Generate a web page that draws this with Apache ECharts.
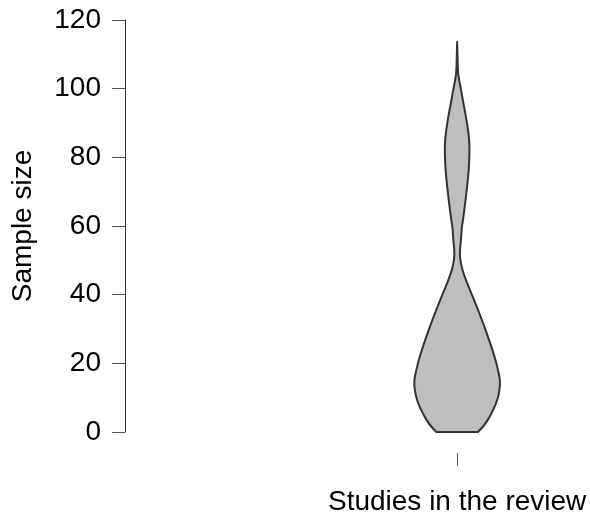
<!DOCTYPE html>
<html>
<head>
<meta charset="utf-8">
<script src="https://cdn.jsdelivr.net/npm/echarts@6/dist/echarts.min.js"></script>
<style>
html,body{margin:0;padding:0;background:#fff;}
#chart{width:590px;height:522px;}
</style>
</head>
<body>
<div id="chart"></div>
<script>
// Category
var categories = ['Studies in the review'];
// Violin outline: sample size values and half-widths (x-axis units, violin centred at x = 1)
var sampleSize = [0, 1.6, 3.6, 6.5, 9.4, 12.3, 15.2, 18.1, 21.1, 24, 26.9, 29.8, 32.7, 35.6, 38.5, 41.4, 44.3, 47.2, 49.5, 51.5, 53.5, 55, 57.5, 59.8, 62, 64.7, 67, 69.5, 72, 74.4, 77, 79.3, 82, 84.5, 87, 89.5, 92, 94.5, 97, 99.5, 102, 104, 106, 110, 113.6];
var halfWidth = [0.0311, 0.0390, 0.0464, 0.0544, 0.0604, 0.0637, 0.0643, 0.0614, 0.0575, 0.0529, 0.0479, 0.0426, 0.0372, 0.0314, 0.0254, 0.0192, 0.0132, 0.0081, 0.0054, 0.0042, 0.0045, 0.0053, 0.0063, 0.0072, 0.0090, 0.0108, 0.0123, 0.0138, 0.0153, 0.0165, 0.0176, 0.0182, 0.0185, 0.0182, 0.0170, 0.0152, 0.0131, 0.0107, 0.0083, 0.0060, 0.0035, 0.0018, 0.0011, 0.0005, 0];
var violinPosition = 1;
// Y axis ticks
var yTicks = [0, 20, 40, 60, 80, 100, 120];

var chart = echarts.init(document.getElementById('chart'), null, {renderer: 'canvas'});
var FONT = 'Liberation Sans, Arial, sans-serif';

var option = {
  animation: false,
  backgroundColor: '#ffffff',
  grid: [
    {left: 125, top: 20, bottom: 90, right: 0, containLabel: false},
    {left: 125, top: 440, bottom: 69, right: 0, containLabel: false}
  ],
  xAxis: [{
    gridIndex: 0,
    type: 'value',
    min: 0.5,
    max: 1.2,
    show: false
  }, {
    gridIndex: 1,
    type: 'value',
    min: 0.5,
    max: 1.2,
    position: 'bottom',
    axisLine: {show: false},
    axisTick: {show: true, customValues: [violinPosition], length: 13, lineStyle: {color: '#555', width: 1}},
    axisLabel: {show: true, customValues: [violinPosition], margin: 35, fontSize: 28, color: '#000', fontFamily: FONT,
      formatter: function () { return categories[0]; }},
    splitLine: {show: false}
  }],
  yAxis: [{
    gridIndex: 0,
    type: 'value',
    min: yTicks[0],
    max: yTicks[yTicks.length - 1],
    interval: 20,
    name: 'Sample size',
    nameLocation: 'middle',
    nameGap: 88,
    nameTextStyle: {fontSize: 28, color: '#000', fontFamily: FONT},
    axisLine: {show: true, lineStyle: {color: '#333', width: 1}},
    axisTick: {show: true, length: 13, lineStyle: {color: '#555', width: 1}},
    axisLabel: {margin: 24, fontSize: 28, color: '#000', fontFamily: FONT},
    splitLine: {show: false}
  }, {
    gridIndex: 1,
    type: 'value',
    min: 0,
    max: 1,
    show: false
  }],
  series: [{
    type: 'custom',
    xAxisIndex: 0,
    yAxisIndex: 0,
    data: [[violinPosition]],
    renderItem: function (params, api) {
      var cx = api.value(0);
      var left = [], right = [];
      for (var i = 0; i < sampleSize.length; i++) {
        left.push(api.coord([cx - halfWidth[i], sampleSize[i]]));
        right.push(api.coord([cx + halfWidth[i], sampleSize[i]]));
      }
      var outline = left.concat(right.reverse());
      var bl = left[0];
      var br = outline[outline.length - 1];
      return {
        type: 'group',
        children: [{
          type: 'polyline',
          shape: {points: outline, smooth: 0.3},
          style: {fill: '#bebebe', stroke: '#333333', lineWidth: 2, lineJoin: 'round'}
        }, {
          type: 'line',
          shape: {x1: bl[0], y1: bl[1], x2: br[0], y2: br[1]},
          style: {stroke: '#333333', lineWidth: 2, lineCap: 'round'}
        }]
      };
    }
  }]
};
chart.setOption(option);
</script>
</body>
</html>
